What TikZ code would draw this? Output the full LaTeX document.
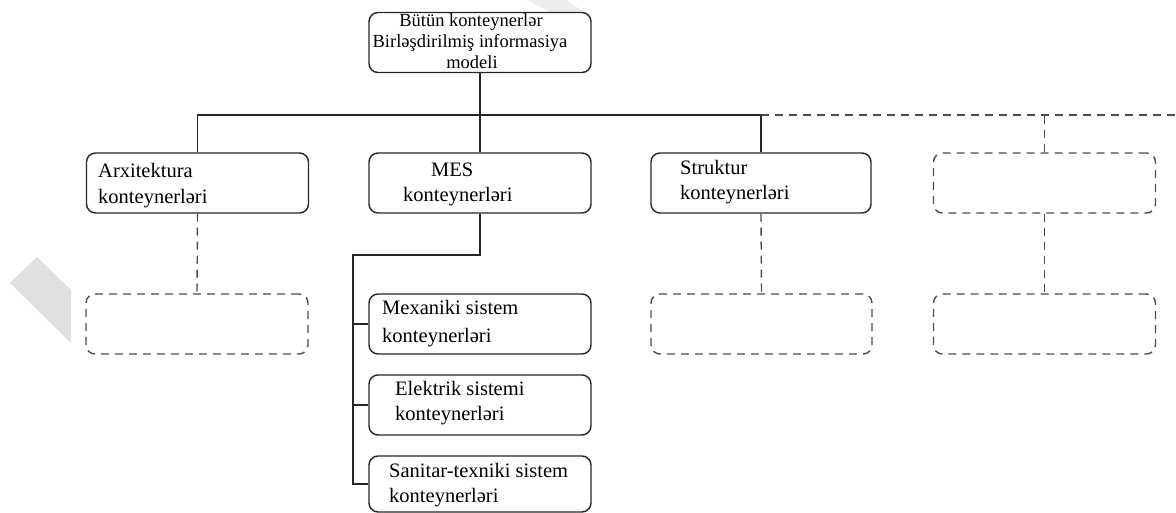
\documentclass[tikz,border=0pt]{standalone}
\usepackage{fontspec}
\setmainfont{Liberation Serif}
\begin{document}
\begin{tikzpicture}[x=1pt, y=-1pt,
  box/.style={draw=black!85, line width=1.4pt, rounded corners=9pt, fill=white,
    minimum width=222pt, minimum height=60pt, inner sep=0pt},
  ghost/.style={draw=black!70, line width=1.4pt, rounded corners=9pt,
    dash pattern=on 8pt off 6pt, minimum width=222pt, minimum height=60pt, inner sep=0pt},
  link/.style={draw=black!85, line width=1.4pt},
  dlink/.style={draw=black!70, line width=1.4pt, dash pattern=on 8pt off 6pt},
  lbl/.style={font=\fontsize{20.5}{24}\selectfont, inner sep=0pt, anchor=base west},
  tlbl/.style={font=\fontsize{18.5}{21}\selectfont, inner sep=0pt, anchor=base}
]
\useasboundingbox (0,0) rectangle (1176,513);

% faint background marks
\fill[black!12] (10,283) -- (37,257) -- (71,290) -- (71,343) -- cycle;
\fill[black!7] (527,0) -- (566,0) -- (592,17) -- (560,17) -- cycle;

% boxes
\node[box] (top) at (480,42.5) {};
\node[box] (arx) at (197.5,183) {};
\node[box] (mes) at (480,183) {};
\node[box, minimum width=220pt] (str) at (761,183) {};
\node[ghost] (b4) at (1044.5,183) {};
\node[ghost] (arxc) at (197,324) {};
\node[ghost, minimum width=221pt] (strc) at (761.5,324) {};
\node[ghost] (b4c) at (1044.5,324) {};
\node[box] (mex) at (480,324) {};
\node[box] (ele) at (480,405) {};
\node[box, minimum height=56pt] (san) at (480,484) {};

% labels
\node[tlbl] (t1) at (471,27) {Bütün konteynerlər};
\node[tlbl] (t2) at (470,48) {Birləşdirilmiş informasiya};
\node[tlbl] (t3) at (472,69) {modeli};
\node[lbl] (la1) at (98,178) {Arxitektura};
\node[lbl] (la2) at (98,204) {konteynerləri};
\node[lbl] (lm1) at (431,177) {MES};
\node[lbl] (lm2) at (403,202) {konteynerləri};
\node[lbl] (ls1) at (680,175) {Struktur};
\node[lbl] (ls2) at (680,200) {konteynerləri};
\node[lbl] (lx1) at (382,315) {Mexaniki sistem};
\node[lbl] (lx2) at (382,342) {konteynerləri};
\node[lbl] (le1) at (395,395) {Elektrik sistemi};
\node[lbl] (le2) at (395,420) {konteynerləri};
\node[lbl] (lz1) at (389,477) {Sanitar-texniki sistem};
\node[lbl] (lz2) at (389,502) {konteynerləri};

% bus
\coordinate (busL) at (198,115);
\coordinate (busR) at (761,115);
\coordinate (busE) at (1176,115);
\coordinate (mesJ) at (353,255);

% solid connectors
\draw[link] (top.south) -- (top.south |- busL);
\draw[link] (arx.north) -- (arx.north |- busL) -- (busR) -- (str.north);
\draw[link] (mes.north) -- (mes.north |- busL);
\draw[link] (mes.south) |- (mesJ) -- (mesJ |- san.west) -- (san.west);
\draw[link] (mesJ |- mex.west) -- (mex.west);
\draw[link] (mesJ |- ele.west) -- (ele.west);

% dashed connectors
\draw[dlink] (busR) -- (busE);
\draw[dlink] (b4.north) -- (b4.north |- busL);
\draw[dlink] (arx.south) -- (arxc.north);
\draw[dlink] (str.south) -- (strc.north);
\draw[dlink] (b4.south) -- (b4c.north);
\end{tikzpicture}
\end{document}
